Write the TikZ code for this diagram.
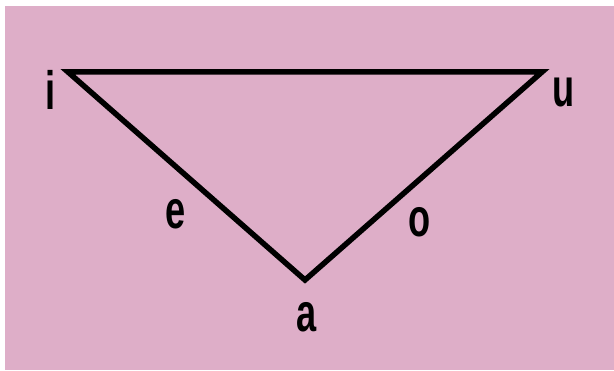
\documentclass[tikz,border=0pt]{standalone}
\usepackage{fontspec}
\usepackage{tikz}
\newfontfamily\vowelfont[FakeStretch=0.67]{Liberation Sans Bold}
\definecolor{bgpink}{HTML}{DEAEC8}

\begin{document}
\begin{tikzpicture}[x=1pt,y=1pt,
  vowel/.style={font=\vowelfont\fontsize{54}{54}\selectfont,inner sep=0pt,anchor=base},
  edge/.style={line width=5.5pt,line join=miter}]
\useasboundingbox (0,0) rectangle (614,371);
\fill[bgpink] (5,1) rectangle (614,365);
\coordinate (ci) at (68,299);
\coordinate (cu) at (542,299);
\coordinate (ca) at (305,91);
\draw[edge] (ci) -- (cu) -- (ca) -- cycle;
\node[vowel] (i) at (51,261) {i};
\node[vowel] (u) at (564,264) {u};
\node[vowel] (e) at (176,142) {e};
\node[vowel] (o) at (420,134) {o};
\node[vowel] (a) at (307,39) {a};
\end{tikzpicture}
\end{document}
